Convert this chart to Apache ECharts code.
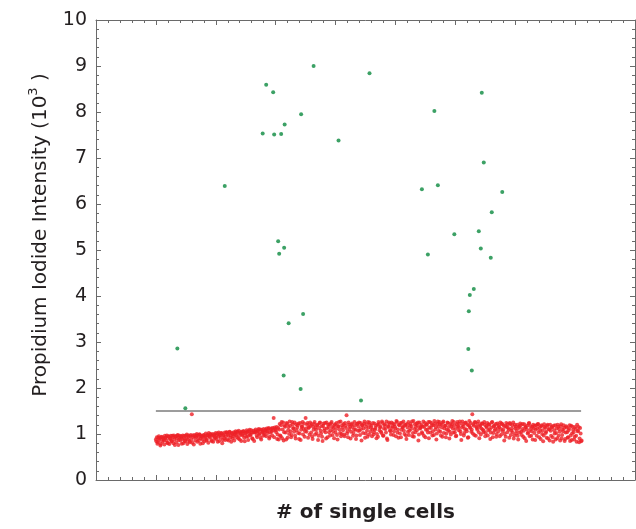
<!DOCTYPE html>
<html><head><meta charset="utf-8">
<script src="https://cdn.jsdelivr.net/npm/echarts@6/dist/echarts.min.js"></script>
<style>html,body{margin:0;padding:0;background:#fff}#c{width:636px;height:529px}</style>
</head><body><div id="c"></div>
<script>
// x positions are cell numbers on the "# of single cells" axis
var xMin = 0, xMax = 1080, xStep = 120;
var yTicks = [0,1,2,3,4,5,6,7,8,9,10];
var redStart = 120; // first red cell; red cells are consecutive, even cells in redValuesEven, odd cells in redValuesOdd
var redValuesEven = [
0.88,0.93,0.82,0.95,0.90,0.78,0.94,0.91,0.86,0.96,
0.92,0.97,0.80,0.94,0.89,0.96,0.84,0.93,0.97,0.76,
0.95,0.90,0.98,0.87,0.96,0.93,0.79,0.97,0.91,0.85,
0.96,0.99,0.88,0.94,0.82,0.98,1.43,0.97,0.77,0.95,
0.93,1.00,0.97,0.86,0.99,0.91,0.95,0.80,0.98,0.94,
1.01,0.88,0.97,1.02,0.93,0.99,0.84,1.00,0.96,0.90,
1.02,0.97,0.83,1.03,0.99,0.92,1.01,0.87,0.98,1.03,
0.95,1.04,1.00,0.86,1.05,0.97,1.02,0.91,1.04,0.99,
1.06,0.93,1.03,1.07,0.88,1.01,1.05,0.97,1.06,0.84,
1.02,1.08,0.95,1.06,1.09,0.99,1.04,0.89,1.07,1.03,
1.10,0.97,1.06,1.11,1.01,0.92,1.09,1.04,1.11,0.98,
1.07,1.12,1.02,1.13,0.94,1.10,1.05,1.13,1.35,1.14,1.08,1.15,0.99,
0.88,1.22,0.95,1.26,1.10,0.86,1.18,1.03,1.24,0.92,1.15,1.27,1.06,0.98,1.21,1.12,
1.25,0.90,1.08,1.19,1.23,1.01,0.87,1.16,1.26,1.11,0.94,1.35,1.05,1.24,1.13,0.99,
1.18,1.22,0.89,1.09,1.26,1.14,1.02,1.20,0.96,1.24,1.07,1.17,0.85,1.23,1.12,1.04,
1.25,0.93,1.15,1.21,1.08,1.26,0.98,1.13,1.19,1.03,1.24,0.88,1.17,1.10,1.27,1.00,
1.14,1.22,0.95,1.18,1.41,1.06,1.25,1.11,0.90,1.20,1.15,1.02,1.26,1.09,0.97,1.23,
1.16,1.07,1.24,0.86,1.19,1.12,1.27,1.01,1.21,0.94,1.14,1.25,1.05,1.18,1.10,0.99,
1.23,1.13,0.91,1.20,1.26,1.08,1.16,1.02,1.24,0.96,1.19,1.11,1.27,0.87,1.15,1.22,
1.06,1.25,1.17,0.98,1.21,1.12,1.28,1.03,0.92,1.19,1.24,1.09,1.15,1.27,1.00,1.20,
0.89,1.14,1.26,1.07,1.22,1.17,0.95,1.28,1.11,1.04,1.23,1.18,0.86,1.25,1.13,1.20,
1.01,1.27,1.16,0.93,1.21,1.09,1.26,1.14,1.03,1.24,0.97,1.19,1.28,1.10,0.88,1.22,
1.15,1.26,1.05,1.20,0.94,1.27,1.12,1.18,1.01,1.25,1.08,0.90,1.23,1.16,1.28,1.03,
1.19,1.11,0.96,1.26,1.14,1.22,1.06,0.87,1.27,1.17,1.02,1.24,1.10,1.20,0.93,1.28,
1.13,1.05,1.43,1.21,0.98,1.25,1.16,1.09,1.27,0.91,1.19,1.12,1.23,1.04,1.26,0.95,
1.17,1.24,1.08,1.20,0.89,1.14,1.26,1.02,1.18,1.11,0.94,1.23,1.06,1.15,1.25,0.99,
1.21,1.10,0.86,1.17,1.24,1.04,1.13,0.92,1.22,1.07,1.19,1.25,0.97,1.12,1.01,1.20,
0.88,1.16,1.23,1.05,1.11,0.94,1.21,1.14,0.85,1.18,1.03,1.24,1.09,0.96,1.15,1.20,
1.02,0.87,1.19,1.12,1.22,0.93,1.07,1.17,1.00,0.84,1.21,1.13,1.05,1.18,0.90,1.10,
1.20,0.96,1.14,0.83,1.08,1.19,1.02,0.91,1.16,1.11,0.86,1.21,0.98,1.06,1.13,0.89,
1.17,1.04,0.93,1.12,0.85,1.18,1.01,1.09,0.88,1.15,0.96,1.20,1.07,0.82,1.13,0.84
];
var redValuesOdd = [
0.84,0.79,0.92,0.87,0.75,0.93,0.83,0.89,0.77,0.92,
0.86,0.81,0.95,0.78,0.91,0.85,0.96,0.80,0.88,0.94,
0.82,0.97,0.76,0.92,0.86,0.95,0.89,0.80,0.96,0.84,
0.91,0.78,0.97,0.85,0.95,0.88,0.81,0.93,0.98,0.86,
0.97,0.83,0.91,0.99,0.79,0.95,0.88,0.97,0.84,0.92,
0.86,0.98,0.81,0.95,1.00,0.87,0.96,0.83,0.99,0.93,
0.89,1.01,0.94,0.85,0.98,1.02,0.80,0.96,0.91,0.87,
1.03,0.88,0.97,1.04,0.92,0.83,1.00,0.95,0.86,1.02,
0.98,1.05,0.90,0.96,1.04,0.85,0.99,1.06,0.92,1.01,
0.94,1.05,0.87,1.01,0.97,1.08,0.91,1.03,0.85,1.06,
1.04,0.93,1.08,0.99,1.10,0.88,1.05,0.96,1.02,1.09,
0.95,1.06,1.11,0.90,1.03,1.12,0.97,1.08,0.93,1.11,1.04,0.89,1.13,
1.10,0.97,1.19,0.91,1.25,1.04,1.16,0.88,1.22,1.08,1.00,1.18,0.93,1.26,1.13,1.05,
0.96,1.21,1.14,1.02,0.89,1.24,1.09,1.17,0.99,1.23,1.06,1.12,1.20,0.92,1.15,1.25,
1.03,0.95,1.16,1.22,0.99,1.10,1.19,0.87,1.13,1.25,1.01,0.94,1.18,1.07,1.24,0.90,
1.12,1.20,1.04,0.97,1.23,1.15,1.06,0.91,1.21,1.11,0.98,1.17,1.26,1.02,0.95,1.19,
1.08,0.99,1.24,1.13,1.01,0.93,1.20,1.16,1.05,1.23,0.96,1.10,1.18,0.89,1.22,1.07,
1.25,0.98,1.11,1.19,1.02,1.23,0.92,1.15,1.07,1.26,0.99,1.20,1.13,0.95,1.24,1.04,
1.09,1.18,1.00,0.94,1.22,1.14,1.05,1.27,0.97,1.12,1.21,1.03,0.90,1.17,1.25,1.08,
0.99,1.13,1.23,1.06,1.16,0.95,1.26,1.10,1.20,1.01,0.93,1.24,1.14,1.07,1.19,0.97,
1.22,1.05,0.98,1.18,1.11,1.27,1.02,0.94,1.21,1.15,1.08,1.25,0.99,1.12,1.17,1.04,
1.16,0.96,1.24,1.09,1.20,1.03,0.91,1.26,1.13,1.19,1.06,0.98,1.23,1.15,1.01,1.27,
1.07,1.21,0.97,1.14,1.25,1.02,1.18,0.93,1.10,1.24,1.16,1.05,0.99,1.20,1.12,1.26,
1.03,0.95,1.22,1.17,1.08,1.27,1.00,1.14,1.21,0.97,1.11,1.25,1.06,0.92,1.19,1.15,
1.24,1.09,1.01,1.18,1.26,0.96,1.13,1.22,1.04,1.16,0.99,1.23,1.10,1.07,1.20,1.02,
1.14,0.97,1.21,1.10,1.03,1.25,0.93,1.17,1.08,1.22,1.00,1.13,1.19,0.95,1.11,1.23,
1.06,1.18,1.00,0.94,1.15,1.21,1.09,1.24,0.98,1.12,1.04,0.90,1.20,1.16,1.07,0.96,
1.13,1.03,1.19,0.98,1.22,1.07,0.91,1.15,1.10,1.01,1.23,0.95,1.17,1.06,0.88,1.12,
1.18,1.09,0.96,1.21,1.04,1.14,0.89,1.19,1.08,0.97,1.15,1.02,0.92,1.20,1.11,0.86,
1.07,1.15,0.93,1.18,1.01,0.88,1.12,1.20,0.96,1.05,1.17,0.90,1.10,1.19,0.85,1.03,
1.14,0.92,1.08,1.19,0.97,0.87,1.16,1.04,0.94,1.11,0.83,1.06,1.15,0.90,1.01,0.86
];
var greenCells = [163,179,258,334,341,355,357,371,378,365,367,377,386,376,415,410,411,436,486,531,548,653,665,678,685,718,749,757,747,746,753,767,771,773,777,791,793,814];
var greenValues = [2.86,1.56,6.39,7.53,8.59,8.43,7.51,7.52,7.73,5.19,4.92,5.05,3.41,2.27,3.61,1.98,7.95,9.00,7.38,1.73,8.84,6.32,4.90,8.02,6.41,5.34,4.02,4.15,3.67,2.85,2.38,5.41,5.03,8.42,6.90,4.83,5.82,6.26];
var thresholdCells = [120, 972];
var thresholdValue = 1.5;

var redData = [];
redValuesEven.forEach(function(v,i){ redData.push([redStart + 2*i, v]); });
redValuesOdd.forEach(function(v,i){ redData.push([redStart + 2*i + 1, v]); });
var greenData = greenCells.map(function(c,i){ return [c, greenValues[i]]; });
var lineData = thresholdCells.map(function(c){ return [c, thresholdValue]; });

var axCol = '#6a6a6a';
var FONT = 'DejaVu Sans';
function xAx(pos, labels){
  return {type:'value', position:pos, min:xMin, max:xMax, interval:xStep,
    axisLine:{show:true, onZero:false, lineStyle:{color:axCol, width:1}},
    axisTick:{show:true, inside:true, length:5, lineStyle:{color:axCol}},
    minorTick:{show:true, splitNumber:5, length:3, lineStyle:{color:axCol}},
    axisLabel:{show:false}, splitLine:{show:false},
    name: labels ? '# of single cells' : '', nameLocation:'middle', nameGap:23,
    nameTextStyle:{fontFamily:FONT, fontSize:20, fontWeight:'bold', color:'#231f20'}};
}
function yAx(pos, labels){
  return {type:'value', position:pos, min:0, max:10, interval:1,
    axisLine:{show:true, onZero:false, lineStyle:{color:axCol, width:1}},
    axisTick:{show:true, inside:true, length:5, lineStyle:{color:axCol}},
    minorTick:{show:true, splitNumber:5, length:3, lineStyle:{color:axCol}},
    axisLabel:{show:labels, margin:9, fontFamily:FONT, fontSize:19, color:'#231f20',
      formatter:function(v){ return yTicks.indexOf(v) >= 0 ? String(v) : ''; }},
    splitLine:{show:false},
    name: labels ? '{a|Propidium Iodide Intensity (10}{s|3}{a| )}' : '',
    nameLocation:'middle', nameGap:42, nameRotate:90,
    nameTextStyle:{padding:[0,0,0,30], rich:{
      a:{fontFamily:FONT, fontSize:20, color:'#231f20'},
      s:{fontFamily:FONT, fontSize:13, color:'#231f20', padding:[0,0,14,0]}
    }}};
}
var chart = echarts.init(document.getElementById('c'), null, {renderer:'canvas'});
chart.setOption({
  animation:false,
  grid:{left:96, right:1, top:20, bottom:49, outerBoundsMode:'none'},
  xAxis:[xAx('bottom', true), xAx('top', false)],
  yAxis:[yAx('left', true), yAx('right', false)],
  series:[
    {type:'line', data:lineData, symbol:'none', lineStyle:{color:'#3a3a3a', width:1}, z:1},
    {type:'scatter', data:redData, symbol:'circle', symbolSize:4, itemStyle:{color:'#ee2027'}, z:2},
    {type:'scatter', data:greenData, symbol:'circle', symbolSize:4, itemStyle:{color:'#0b8a3e'}, z:3}
  ]
});
</script></body></html>
